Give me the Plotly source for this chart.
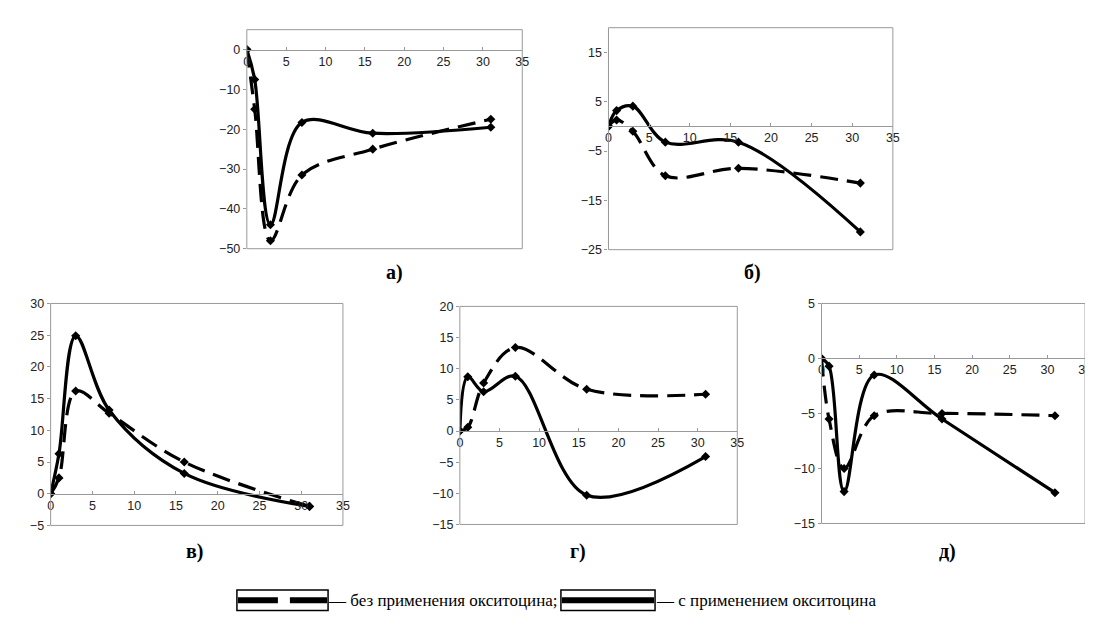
import plotly.graph_objects as go

W, H = 1093, 632

# ---- data ----
days = [0, 1, 3, 7, 16, 31]

a_without = [0, -15, -48, -31.5, -25, -17.5]
a_with = [0, -7.5, -44, -18.3, -21, -19.5]
b_without = [0, 1.3, -1, -10, -8.5, -11.5]
b_with = [0, 3.2, 4.1, -3.2, -3.2, -21.4]
v_without = [0, 2.5, 16.2, 12.7, 5.0, -2]
v_with = [0, 6.3, 24.9, 13.2, 3.2, -2]
g_without = [0, 0.6, 7.7, 13.4, 6.7, 5.9]
g_with = [0, 8.7, 6.3, 8.8, -10.3, -4.1]
d_without = [0, -5.5, -10, -5.2, -5, -5.2]
d_with = [0, -0.7, -12.1, -1.5, -5.5, -12.2]

panel_labels = ["а)", "б)", "в)", "г)", "д)"]
x_tickvals = [0, 5, 10, 15, 20, 25, 30, 35]
y_ranges = [(-50, 5), (-25, 20), (-5, 30), (-15, 20), (-15, 5)]
y_tick0 = [-50, -25, -5, -15, -15]
y_dtick = [10, 10, 5, 5, 5]
legend_texts = ["— без применения окситоцина;", "— с применением окситоцина"]

series = [(a_without, a_with), (b_without, b_with), (v_without, v_with),
          (g_without, g_with), (d_without, d_with)]

# ---- layout (pixel boxes: left, top, right, bottom) ----
boxes = [(238, 15, 516, 239), (603, 13, 890, 240), (40, 295, 335, 522),
         (453, 298, 733, 521), (818, 295, 1084, 520)]
label_pos = [(387, 263), (748, 263), (185, 549), (572, 549), (945, 549)]

fig = go.Figure()
layout = dict(width=W, height=H, margin=dict(l=0, r=0, t=0, b=0),
              paper_bgcolor="white", plot_bgcolor="white", showlegend=False)
shapes = []
annotations = []
tickfont = dict(family="Liberation Sans, Arial", size=12.5, color="#222222")

for i, ((l, t, r, b), (ywo, yw)) in enumerate(zip(boxes, series)):
    n = "" if i == 0 else str(i + 1)
    xa, ya = "x" + n, "y" + n
    dx = [l / W, r / W]
    dy = [1 - b / H, 1 - t / H]
    ymin, ymax = y_ranges[i]
    zero_pos = dy[0] + (0 - ymin) / (ymax - ymin) * (dy[1] - dy[0])
    layout["xaxis" + n] = dict(domain=dx, range=[0, 35], anchor="free", position=zero_pos,
                               tickvals=x_tickvals, ticks="inside", ticklen=3, tickcolor="#999",
                               showline=True, linecolor="#999", linewidth=1,
                               showgrid=False, zeroline=False, tickfont=tickfont,
                               fixedrange=True)
    layout["yaxis" + n] = dict(domain=dy, range=[ymin, ymax], anchor=xa, tick0=y_tick0[i],
                               dtick=y_dtick[i], ticks="outside", ticklen=3, tickcolor="#999",
                               showline=False, showgrid=False, zeroline=False,
                               tickfont=tickfont, fixedrange=True)
    shapes.append(dict(type="rect", xref=xa + " domain", yref=ya + " domain",
                       x0=0, x1=1, y0=0, y1=1, line=dict(color="#999", width=1),
                       fillcolor="rgba(0,0,0,0)", layer="above"))
    fig.add_trace(go.Scatter(x=days, y=ywo, xaxis=xa, yaxis=ya, mode="lines+markers",
                             line=dict(color="black", width=3.2, dash="18px,9px",
                                       shape="spline", smoothing=1.0),
                             marker=dict(symbol="diamond", size=7, color="black")))
    fig.add_trace(go.Scatter(x=days, y=yw, xaxis=xa, yaxis=ya, mode="lines+markers",
                             line=dict(color="black", width=3.2, shape="spline", smoothing=1.0),
                             marker=dict(symbol="diamond", size=7, color="black")))
    lx, ly = label_pos[i]
    annotations.append(dict(text="<b>" + panel_labels[i] + "</b>", xref="paper", yref="paper",
                            x=lx / W, y=1 - ly / H, showarrow=False, xanchor="center",
                            yanchor="middle",
                            font=dict(family="Liberation Serif, Times New Roman", size=20,
                                      color="black")))

# ---- legend (drawn as boxes with sample lines) ----
leg_boxes = [(228, 588, 320, 609), (555, 588, 650, 609)]
leg_text_x = [318, 649]
for j, (x0, y0, x1, y1) in enumerate(leg_boxes):
    shapes.append(dict(type="rect", xref="paper", yref="paper", x0=x0 / W, x1=x1 / W,
                       y0=1 - y1 / H, y1=1 - y0 / H, line=dict(color="black", width=1.5),
                       fillcolor="white"))
    ym = 1 - ((y0 + y1) / 2) / H
    shapes.append(dict(type="line", xref="paper", yref="paper", x0=(x0 + 1) / W, x1=(x1 - 1) / W,
                       y0=ym, y1=ym,
                       line=dict(color="black", width=6,
                                 dash="40px,12px" if j == 0 else "solid")))
    annotations.append(dict(text=legend_texts[j], xref="paper", yref="paper",
                            x=leg_text_x[j] / W, y=ym, showarrow=False, xanchor="left",
                            yanchor="middle",
                            font=dict(family="Liberation Serif, Times New Roman", size=17,
                                      color="black")))

layout["shapes"] = shapes
layout["annotations"] = annotations
fig.update_layout(**layout)
fig.write_html("out.html", config={"displayModeBar": False})
